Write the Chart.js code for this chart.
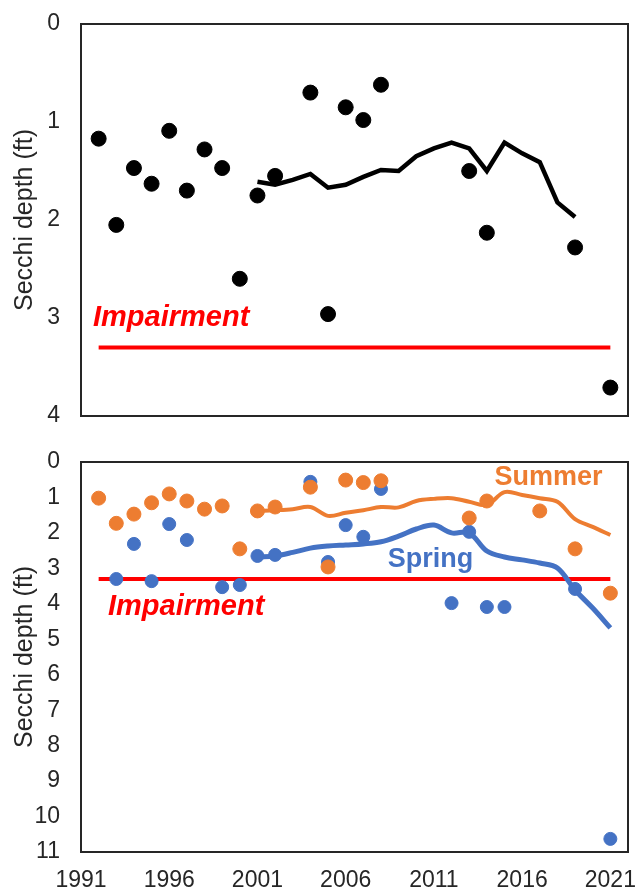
<!DOCTYPE html>
<html>
<head>
<meta charset="utf-8">
<script src="https://cdn.jsdelivr.net/npm/chart.js@4.4.0/dist/chart.umd.min.js"></script>
<style>
  html, body { margin: 0; padding: 0; background: #fff; }
  #wrap { position: relative; width: 637px; height: 890px; }
  .box { position: absolute; left: 0; width: 637px; }
  #topBox { top: 0; height: 440px; }
  #botBox { top: 440px; height: 450px; }
</style>
</head>
<body>
<div id="wrap">
  <div class="box" id="topBox"><canvas id="topChart"></canvas></div>
  <div class="box" id="botBox"><canvas id="botChart"></canvas></div>
</div>
<script>
// years of the yearly dots
const years = [1992, 1993, 1994, 1995, 1996, 1997, 1998, 1999, 2000, 2001,
               2002, 2003, 2004, 2005, 2006, 2007, 2008, 2009, 2010, 2011,
               2012, 2013, 2014, 2015, 2016, 2017, 2018, 2019, 2020, 2021];

// top panel: yearly secchi depth (ft)
const annualDepth = [1.17, 2.05, 1.47, 1.63, 1.09, 1.70, 1.28, 1.47, 2.60, 1.75,
                     1.55, null, 0.70, 2.96, 0.85, 0.98, 0.62, null, null, null,
                     null, 1.50, 2.13, null, null, null, null, 2.28, null, 3.71];

// running trend line of the top panel
const trendYears = [2001, 2002, 2003, 2004, 2005, 2006, 2007, 2008, 2009, 2010,
                    2011, 2012, 2013, 2014, 2015, 2016, 2017, 2018, 2019];
const annualTrend = [1.61, 1.64, 1.59, 1.53, 1.67, 1.64, 1.56, 1.49, 1.50, 1.35,
                     1.27, 1.21, 1.27, 1.50, 1.21, 1.32, 1.41, 1.82, 1.97];

// bottom panel: summer and spring dots
const summerDepth = [1.02, 1.73, 1.47, 1.15, 0.90, 1.10, 1.33, 1.24, 2.45, 1.38,
                     1.27, null, 0.71, 2.96, 0.51, 0.58, 0.53, null, null, null,
                     null, 1.58, 1.10, null, null, 1.38, null, 2.45, null, 3.70];
const springDepth = [null, 3.30, 2.31, 3.36, 1.75, 2.20, null, 3.53, 3.47, 2.65,
                     2.62, null, 0.56, 2.82, 1.78, 2.11, 0.76, null, null, null,
                     3.98, 1.97, 4.09, 4.09, null, null, null, 3.58, null, 10.63];

// bottom panel trend lines
const seasonTrendYears = [2001, 2002, 2003, 2004, 2005, 2006, 2007, 2008, 2009, 2010,
                          2011, 2012, 2013, 2014, 2015, 2016, 2017, 2018, 2019, 2020, 2021];
const summerTrend = [1.38, 1.36, 1.33, 1.27, 1.52, 1.43, 1.36, 1.27, 1.28, 1.10,
                     1.04, 1.02, 1.12, 1.21, 0.85, 0.93, 1.02, 1.12, 1.61, 1.83, 2.06];
const springTrend = [2.68, 2.65, 2.55, 2.43, 2.37, 2.34, 2.31, 2.25, 2.09, 1.89,
                     1.78, 2.00, 2.00, 2.51, 2.68, 2.76, 2.85, 2.99, 3.61, 4.12, 4.68];

// impairment threshold
const impairmentYears = [1992, 2021];
const impairmentDepth = 3.3;

// axis ticks
const xTicks = [1991, 1996, 2001, 2006, 2011, 2016, 2021];
const topYTicks = [0, 1, 2, 3, 4];
const botYTicks = [0, 1, 2, 3, 4, 5, 6, 7, 8, 9, 10, 11];

const FONT = '"Liberation Sans", Arial, sans-serif';
const TEXT = '#262626';
const ORANGE = '#ED7D31';
const BLUE = '#4472C4';

function toPoints(xs, ys) {
    return xs.map((x, i) => ys[i] == null ? null : { x: x, y: ys[i] }).filter(Boolean);
}

// frame round the plot area + text labels placed in data units
const framePlugin = {
    id: 'frame',
    beforeDatasetsDraw(chart) {
        const a = chart.chartArea, c = chart.ctx;
        c.save();
        c.strokeStyle = '#262626';
        c.lineWidth = 2;
        c.strokeRect(a.left, a.top, a.right - a.left, a.bottom - a.top);
        c.restore();
    },
    afterDatasetsDraw(chart, args, opts) {
        const c = chart.ctx;
        (opts.items || []).forEach(t => {
            c.save();
            c.font = t.font;
            c.fillStyle = t.color;
            c.textAlign = t.align;
            c.textBaseline = 'middle';
            c.fillText(t.text, chart.scales.x.getPixelForValue(t.x), chart.scales.y.getPixelForValue(t.y));
            c.restore();
        });
    }
};

function makeOptions(cfg) {
    return {
        responsive: true,
        maintainAspectRatio: false,
        animation: false,
        layout: { padding: { top: cfg.padTop, right: 9, left: 0, bottom: 0 } },
        plugins: {
            legend: { display: false },
            tooltip: { enabled: false },
            frame: { items: cfg.labels }
        },
        scales: {
            x: {
                type: 'linear',
                min: 1991,
                max: 2022,
                grid: { display: false, drawTicks: false },
                border: { display: false },
                afterBuildTicks: s => { s.ticks = xTicks.map(v => ({ value: v })); },
                afterFit: s => {
                    s.height = cfg.xHeight;
                    s.paddingLeft = 0;
                    s.paddingRight = 0;
                },
                ticks: {
                    display: cfg.showX,
                    autoSkip: false,
                    maxRotation: 0,
                    padding: 15,
                    color: TEXT,
                    font: { family: FONT, size: 23 },
                    callback: v => String(v)
                }
            },
            y: {
                reverse: true,
                min: 0,
                max: cfg.yMax,
                grid: { display: false, drawTicks: false },
                border: { display: false },
                afterBuildTicks: s => { s.ticks = cfg.yTicks.map(v => ({ value: v })); },
                afterFit: s => {
                    s.width = 81;
                    s.paddingTop = 0;
                    s.paddingBottom = 0;
                },
                ticks: {
                    padding: 21,
                    color: TEXT,
                    font: { family: FONT, size: 23 }
                },
                title: {
                    display: true,
                    text: 'Secchi depth (ft)',
                    color: TEXT,
                    padding: { top: 10, bottom: 0 },
                    font: { family: FONT, size: 25 }
                }
            }
        }
    };
}

const impairmentSet = {
    label: 'Impairment',
    data: impairmentYears.map(x => ({ x: x, y: impairmentDepth })),
    showLine: true,
    borderColor: '#FF0000',
    borderWidth: 4,
    pointRadius: 0,
    order: 9
};

new Chart(document.getElementById('topChart'), {
    type: 'scatter',
    data: {
        datasets: [
            {
                label: 'Secchi depth',
                data: toPoints(years, annualDepth),
                backgroundColor: '#000',
                borderColor: '#000',
                pointRadius: 7.5,
                order: 0
            },
            {
                label: 'Trend',
                data: toPoints(trendYears, annualTrend),
                showLine: true,
                borderColor: '#000',
                borderWidth: 4.5,
                pointRadius: 0,
                order: 1
            },
            impairmentSet
        ]
    },
    options: makeOptions({
        padTop: 24, xHeight: 24, showX: false, yMax: 4, yTicks: topYTicks,
        labels: [
            { text: 'Impairment', x: 1991.68, y: 3.0, color: '#FF0000', align: 'left',
              font: 'italic bold 29px ' + FONT }
        ]
    }),
    plugins: [framePlugin]
});

new Chart(document.getElementById('botChart'), {
    type: 'scatter',
    data: {
        datasets: [
            {
                label: 'Summer',
                data: toPoints(years, summerDepth),
                backgroundColor: ORANGE,
                borderColor: ORANGE,
                pointRadius: 7,
                order: 0
            },
            {
                label: 'Spring',
                data: toPoints(years, springDepth),
                backgroundColor: BLUE,
                borderColor: BLUE,
                pointRadius: 6.5,
                order: 1
            },
            {
                label: 'Spring trend',
                data: toPoints(seasonTrendYears, springTrend),
                showLine: true,
                borderColor: BLUE,
                borderWidth: 5,
                tension: 0.35,
                pointRadius: 0,
                order: 2
            },
            {
                label: 'Summer trend',
                data: toPoints(seasonTrendYears, summerTrend),
                showLine: true,
                borderColor: ORANGE,
                borderWidth: 4,
                tension: 0.35,
                pointRadius: 0,
                order: 3
            },
            impairmentSet
        ]
    },
    options: makeOptions({
        padTop: 22, xHeight: 38, showX: true, yMax: 11, yTicks: botYTicks,
        labels: [
            { text: 'Impairment', x: 1992.53, y: 4.09, color: '#FF0000', align: 'left',
              font: 'italic bold 29px ' + FONT },
            { text: 'Summer', x: 2017.5, y: 0.45, color: ORANGE, align: 'center',
              font: 'bold 27px ' + FONT },
            { text: 'Spring', x: 2010.8, y: 2.74, color: BLUE, align: 'center',
              font: 'bold 27px ' + FONT }
        ]
    }),
    plugins: [framePlugin]
});
</script>
</body>
</html>
